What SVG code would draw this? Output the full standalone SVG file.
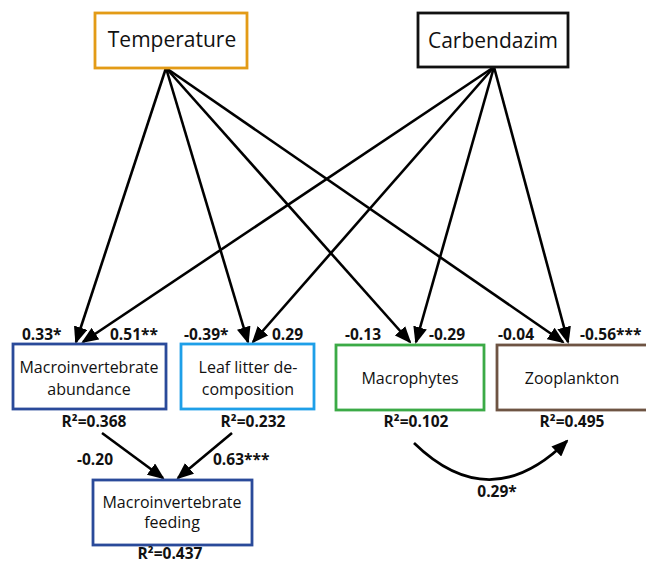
<svg xmlns="http://www.w3.org/2000/svg" width="646" height="564" viewBox="0 0 646 564">
<style>
.box{fill:#fff;stroke-width:2.8}
.nt{font-family:"Open Sans","Liberation Sans",sans-serif;font-size:16px;fill:#111;text-anchor:middle}
.big{font-size:21px}
.lb{font-family:"Open Sans","Liberation Sans",sans-serif;font-size:15.5px;font-weight:bold;fill:#111}
.mid{text-anchor:middle}
.ar{stroke:#000;stroke-width:2.6;fill:none;marker-end:url(#ah)}
</style>
<defs>
<marker id="ah" markerUnits="userSpaceOnUse" markerWidth="17" markerHeight="14" refX="15" refY="7" orient="auto">
<path d="M0,0 L17,7 L0,14 Z" fill="#000"/>
</marker>
</defs>
<g id="connectors">
<line class="ar" x1="166" y1="68" x2="76" y2="342"/>
<line class="ar" x1="166" y1="68" x2="248" y2="342"/>
<line class="ar" x1="166" y1="68" x2="410" y2="342"/>
<line class="ar" x1="166" y1="68" x2="563" y2="342"/>
<line class="ar" x1="494" y1="67" x2="83" y2="342"/>
<line class="ar" x1="494" y1="67" x2="253" y2="342"/>
<line class="ar" x1="494" y1="67" x2="416" y2="342"/>
<line class="ar" x1="494" y1="67" x2="568" y2="342"/>
<line class="ar" x1="102" y1="433" x2="163" y2="478"/>
<line class="ar" x1="232" y1="433" x2="178" y2="478"/>
<path class="ar" d="M414,443 Q490,517 567,441"/>
</g>
<g id="temperature">
<rect class="box" x="95" y="13" width="152" height="55" stroke="#E39B16"/>
<text class="nt big" x="172" y="47">Temperature</text>
</g>
<g id="carbendazim">
<rect class="box" x="418" y="13" width="150" height="54" stroke="#111"/>
<text class="nt big" x="493" y="48">Carbendazim</text>
</g>
<g id="abundance">
<rect class="box" x="13" y="344" width="153" height="65" stroke="#2A4A9A"/>
<text class="nt" x="89" y="373">Macroinvertebrate</text>
<text class="nt" x="89" y="395">abundance</text>
</g>
<g id="leaf">
<rect class="box" x="181" y="344" width="133" height="65" stroke="#1E9FE8"/>
<text class="nt" x="248" y="373">Leaf litter de-</text>
<text class="nt" x="248" y="395">composition</text>
</g>
<g id="macrophytes">
<rect class="box" x="336" y="345" width="148" height="65" stroke="#3BAA46"/>
<text class="nt" x="410" y="384">Macrophytes</text>
</g>
<g id="zooplankton">
<rect class="box" x="497" y="345" width="152" height="65" stroke="#6E5443"/>
<text class="nt" x="572" y="384">Zooplankton</text>
</g>
<g id="feeding">
<rect class="box" x="93" y="480" width="159" height="65" stroke="#2A4A9A"/>
<text class="nt" x="172" y="508">Macroinvertebrate</text>
<text class="nt" x="172" y="528">feeding</text>
</g>
<g id="labels">
<text class="lb" x="22" y="340">0.33*</text>
<text class="lb" x="110" y="340">0.51**</text>
<text class="lb" x="184" y="340">-0.39*</text>
<text class="lb" x="272" y="340">0.29</text>
<text class="lb" x="345" y="340">-0.13</text>
<text class="lb" x="429" y="340">-0.29</text>
<text class="lb" x="498" y="340">-0.04</text>
<text class="lb" x="580" y="340">-0.56***</text>
<text class="lb mid" x="94" y="427">R²=0.368</text>
<text class="lb mid" x="253" y="427">R²=0.232</text>
<text class="lb mid" x="416" y="427">R²=0.102</text>
<text class="lb mid" x="572" y="427">R²=0.495</text>
<text class="lb mid" x="170" y="559">R²=0.437</text>
<text class="lb" x="77" y="465">-0.20</text>
<text class="lb" x="213" y="465">0.63***</text>
<text class="lb mid" x="497" y="497">0.29*</text>
</g>
</svg>
